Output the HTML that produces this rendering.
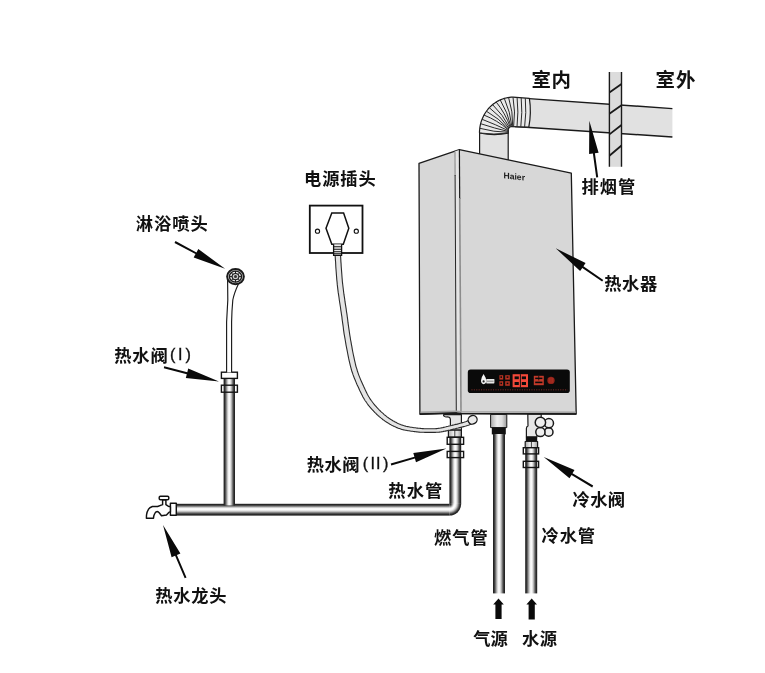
<!DOCTYPE html>
<html lang="zh">
<head>
<meta charset="utf-8">
<title>热水器安装示意图</title>
<style>
html,body{margin:0;padding:0;background:#fff;}
body{width:765px;height:673px;overflow:hidden;position:relative;font-family:"Liberation Sans","Noto Sans CJK SC",sans-serif;}
svg{position:absolute;left:0;top:0;display:block;will-change:transform;}
.lb{position:absolute;white-space:nowrap;font-weight:700;font-size:17.25px;line-height:20px;color:#111;}
.pr{position:absolute;white-space:nowrap;font-family:"Liberation Sans",sans-serif;font-weight:400;font-size:16.2px;line-height:20px;letter-spacing:0;color:#111;-webkit-text-stroke:0.35px #111;}
#labels{position:absolute;left:0;top:0;width:765px;height:673px;will-change:transform;}
</style>
</head>
<body>
<svg width="765" height="673" viewBox="0 0 765 673">
<defs>
  <linearGradient id="pv" x1="0" y1="0" x2="1" y2="0">
    <stop offset="0" stop-color="#1c1c1c"/>
    <stop offset="0.1" stop-color="#2e2e2e"/>
    <stop offset="0.2" stop-color="#6a6a6a"/>
    <stop offset="0.32" stop-color="#bdbdbd"/>
    <stop offset="0.42" stop-color="#efefef"/>
    <stop offset="0.5" stop-color="#fdfdfd"/>
    <stop offset="0.58" stop-color="#efefef"/>
    <stop offset="0.68" stop-color="#bdbdbd"/>
    <stop offset="0.8" stop-color="#6a6a6a"/>
    <stop offset="0.9" stop-color="#2e2e2e"/>
    <stop offset="1" stop-color="#1c1c1c"/>
  </linearGradient>
  <linearGradient id="ph" x1="0" y1="0" x2="0" y2="1">
    <stop offset="0" stop-color="#1c1c1c"/>
    <stop offset="0.1" stop-color="#2e2e2e"/>
    <stop offset="0.19" stop-color="#6a6a6a"/>
    <stop offset="0.3" stop-color="#c4c4c4"/>
    <stop offset="0.38" stop-color="#f4f4f4"/>
    <stop offset="0.46" stop-color="#ffffff"/>
    <stop offset="0.55" stop-color="#f0f0f0"/>
    <stop offset="0.66" stop-color="#bdbdbd"/>
    <stop offset="0.78" stop-color="#6a6a6a"/>
    <stop offset="0.88" stop-color="#2e2e2e"/>
    <stop offset="1" stop-color="#1a1a1a"/>
  </linearGradient>
  <radialGradient id="pe" gradientUnits="userSpaceOnUse" cx="449.4" cy="503.8" r="12">
    <stop offset="0" stop-color="#1c1c1c"/>
    <stop offset="0.1" stop-color="#2e2e2e"/>
    <stop offset="0.19" stop-color="#6a6a6a"/>
    <stop offset="0.3" stop-color="#c4c4c4"/>
    <stop offset="0.38" stop-color="#f4f4f4"/>
    <stop offset="0.46" stop-color="#ffffff"/>
    <stop offset="0.55" stop-color="#f0f0f0"/>
    <stop offset="0.66" stop-color="#bdbdbd"/>
    <stop offset="0.78" stop-color="#6a6a6a"/>
    <stop offset="0.88" stop-color="#2e2e2e"/>
    <stop offset="1" stop-color="#1a1a1a"/>
  </radialGradient>
  <linearGradient id="fit" x1="0" y1="0" x2="1" y2="0">
    <stop offset="0" stop-color="#aaa"/>
    <stop offset="0.4" stop-color="#eee"/>
    <stop offset="0.7" stop-color="#ddd"/>
    <stop offset="1" stop-color="#999"/>
  </linearGradient>
</defs>

<!-- exhaust pipe -->
<g id="exhaust" stroke="#1a1a1a" stroke-width="1.3" stroke-linejoin="round">
  <path d="M529 98.6 L672.4 108.6 L672.4 137 L515 126.5 Z" fill="#e1e1e1" stroke="none"/>
  <path d="M529 98.6 L672.4 108.6 M515 126.5 L672.4 137" fill="none" stroke-width="1.4"/>
  <rect x="479.6" y="130" width="28.6" height="32" fill="#e1e1e1" stroke="none"/>
  <path d="M479.6 162 L479.6 130 M508.2 162 L508.2 130" fill="none" stroke-width="1.2"/>
  <path d="M479.5 133.0 L479.5 131.1 L479.7 129.3 L479.9 127.4 L480.2 125.6 L480.6 123.7 L481.1 121.9 L481.7 120.2 L482.4 118.4 L483.2 116.7 L484.0 115.1 L484.9 113.5 L485.9 112.0 L487.0 110.5 L488.1 109.0 L489.3 107.7 L490.6 106.4 L491.9 105.2 L493.3 104.0 L494.8 103.0 L496.2 102.0 L497.8 101.1 L499.4 100.3 L501.0 99.6 L502.6 99.0 L504.3 98.4 L506.0 98.0 L507.8 97.6 L509.5 97.4 L511.2 97.2 L513.0 97.2 L529.4 98.4 Q531.6 112.5 528.8 127.2 L511.7 126.6 L511.2 126.6 L510.6 126.8 L510.1 127.0 L509.6 127.3 L509.2 127.6 L508.9 128.0 L508.6 128.5 L508.4 129.0 L508.2 129.6 L508.2 130.1 L508.2 133.2 Q494 136 479.5 133 Z" fill="#e9e9e9" stroke-width="1.2"/>
  <path d="M479.5 133.0 Q493.8 134.9 508.2 133.2 M479.8 128.3 Q493.7 132.1 508.2 132.3 M480.6 123.7 Q494.3 128.2 508.2 131.5 M482.1 119.3 Q495.4 124.4 508.2 130.6 M484.0 115.1 Q497.3 120.3 508.2 129.7 M486.4 111.2 Q498.9 118.2 508.4 128.9 M489.3 107.7 Q500.8 116.2 508.8 128.1 M492.6 104.6 Q503.0 114.6 509.4 127.4 M496.2 102.0 Q505.3 113.3 510.2 127.0 M500.2 99.9 Q507.8 112.4 511.0 126.7 M504.3 98.4 Q510.4 111.9 511.9 126.6 M508.6 97.5 Q513.1 111.7 512.7 126.6 M513.0 97.2 Q515.7 111.9 513.6 126.7 M517.1 97.5 Q518.7 112.1 517.0 126.8 M521.2 97.8 Q522.6 112.4 520.8 126.9 M525.3 98.1 Q526.6 112.6 524.6 127.1" fill="none" stroke-width="1" stroke="#2a2a2a"/>
</g>

<!-- wall -->
<g id="wall">
  <rect x="609.4" y="72" width="12.1" height="94.8" fill="#dcdcdc"/>
  <path d="M609.4 72 V166.8 M621.5 72 V166.8" stroke="#1a1a1a" stroke-width="1.4" fill="none"/>
  <path d="M609.4 92.5 L621.5 83.9 M609.4 113.8 L621.5 105.3 M609.4 134.4 L621.5 125 M609.4 155.7 L621.5 145.5" stroke="#1a1a1a" stroke-width="1.8" fill="none"/>
</g>

<!-- fittings under heater -->
<g id="fittings" stroke="#1a1a1a" stroke-width="1.2" stroke-linejoin="round">
  <!-- hot valve body -->
  <path d="M443.6 414.6 Q443.2 416.6 446 417 Q450.2 416.4 450.4 419.6 L450.4 430.2 L461.4 430.2 L461.4 414.6 Z" fill="#e6e6e6"/>
  <rect x="448.4" y="430.2" width="13" height="6.8" fill="url(#fit)"/>
  <path d="M454.8 430.2 V437" fill="none" stroke-width="0.8"/>
  <!-- gas fitting -->
  <rect x="490.6" y="414.4" width="16.2" height="13.2" fill="url(#fit)" stroke-width="1"/>
  <rect x="491.8" y="427.4" width="14" height="7" fill="#111" stroke="none"/>
  <!-- cold valve body -->
  <path d="M527.8 414 L528 426 Q526.4 426.6 526.4 428.4 L526.4 436.8 L537 436.8 L537 430 L541.2 426 L541.2 414 Z" fill="#e6e6e6"/>
  <g stroke-width="1.5" fill="#efefef">
  <circle cx="548.7" cy="432" r="4.3"/>
  <circle cx="540.4" cy="432" r="4.6"/>
  <circle cx="548.9" cy="423.2" r="4.6"/>
  <circle cx="540.4" cy="422.4" r="5.2"/>
  </g>
  <rect x="525.8" y="436.8" width="11.4" height="4.8" fill="#111" stroke="none"/>
  <rect x="525.2" y="441.5" width="12.4" height="6" fill="url(#fit)"/>
  <path d="M531.4 441.5 V447.5" fill="none" stroke-width="0.8"/>
</g>

<!-- power cable -->
<g id="cable" stroke="#1a1a1a" stroke-linejoin="round">
  <path d="M334.9 250.1 L334.9 250.3 L334.9 250.5 L334.9 250.6 L334.9 250.8 L334.9 251.1 L334.9 251.5 L334.9 251.9 L335.0 252.5 L335.0 253.2 L335.0 254.1 L335.1 255.2 L335.2 256.5 L335.3 258.1 L335.4 259.9 L335.6 262.0 L335.7 264.2 L335.8 266.6 L336.0 269.2 L336.2 271.8 L336.4 274.5 L336.6 277.1 L336.8 279.8 L337.1 282.4 L337.3 284.9 L337.6 287.4 L337.9 289.9 L338.2 292.4 L338.6 294.9 L339.0 297.5 L339.3 300.0 L339.7 302.5 L340.1 305.0 L340.5 307.5 L340.8 310.0 L341.2 312.4 L341.5 314.7 L341.9 316.9 L342.1 319.1 L342.4 321.3 L342.7 323.4 L343.0 325.4 L343.3 327.5 L343.5 329.6 L343.8 331.7 L344.1 333.8 L344.5 336.0 L344.9 338.2 L345.3 340.5 L345.7 342.8 L346.1 345.3 L346.6 347.8 L347.1 350.4 L347.6 353.0 L348.1 355.6 L348.6 358.2 L349.2 360.8 L349.8 363.3 L350.4 365.8 L351.0 368.2 L351.6 370.5 L352.4 372.7 L353.1 374.9 L353.9 377.0 L354.7 379.1 L355.6 381.1 L356.4 383.1 L357.2 385.0 L358.1 386.8 L358.9 388.5 L359.6 390.2 L360.4 391.7 L361.0 393.1 L361.7 394.4 L362.3 395.6 L362.8 396.7 L363.4 397.7 L363.9 398.6 L364.4 399.5 L364.9 400.3 L365.4 401.0 L366.0 401.7 L366.5 402.5 L367.0 403.2 L367.5 404.0 L368.1 404.8 L368.7 405.6 L369.4 406.3 L370.0 407.1 L370.6 407.8 L371.3 408.6 L371.9 409.3 L372.5 410.0 L373.2 410.6 L373.8 411.3 L374.4 412.0 L375.0 412.6 L375.7 413.2 L376.3 413.9 L376.9 414.5 L377.6 415.1 L378.2 415.7 L378.9 416.2 L379.5 416.8 L380.2 417.4 L380.8 417.9 L381.5 418.4 L382.1 418.9 L382.7 419.5 L383.4 419.9 L384.1 420.4 L384.7 420.9 L385.4 421.3 L386.0 421.8 L386.7 422.2 L387.3 422.6 L388.0 423.0 L388.6 423.4 L389.3 423.8 L389.9 424.2 L390.6 424.5 L391.2 424.9 L391.9 425.3 L392.5 425.6 L393.2 425.9 L393.8 426.2 L394.4 426.5 L395.1 426.8 L395.7 427.1 L396.4 427.4 L397.0 427.7 L397.7 427.9 L398.3 428.2 L398.9 428.4 L399.5 428.6 L400.1 428.8 L400.7 429.0 L401.3 429.2 L401.9 429.4 L402.5 429.6 L403.1 429.7 L403.8 429.9 L404.5 430.0 L405.3 430.2 L406.1 430.3 L407.0 430.5 L408.0 430.7 L409.0 430.8 L410.1 431.0 L411.2 431.2 L412.4 431.3 L413.5 431.5 L414.7 431.6 L415.8 431.8 L416.9 431.9 L418.0 432.0 L419.0 432.1 L420.0 432.2 L421.0 432.2 L422.0 432.3 L422.9 432.3 L423.8 432.3 L424.8 432.4 L425.7 432.4 L426.6 432.4 L427.4 432.4 L428.3 432.4 L429.2 432.4 L430.0 432.4 L430.8 432.4 L431.6 432.4 L432.4 432.4 L433.2 432.4 L433.9 432.4 L434.7 432.4 L435.4 432.4 L436.2 432.3 L437.0 432.3 L437.8 432.3 L438.6 432.2 L439.5 432.1 L440.3 432.0 L441.1 431.9 L441.9 431.7 L442.8 431.6 L443.6 431.4 L444.4 431.3 L445.3 431.1 L446.2 430.9 L447.1 430.7 L448.0 430.4 L449.0 430.2 L450.1 430.0 L451.2 429.7 L452.5 429.4 L453.9 429.0 L455.3 428.7 L456.8 428.3 L458.2 428.0 L459.7 427.6 L461.1 427.2 L462.5 426.9 L463.7 426.6 L464.9 426.3 L465.9 426.0 L466.8 425.7 L467.6 425.5 L468.3 425.2 L469.0 425.0 L469.6 424.7 L470.1 424.5 L470.5 424.3 L470.9 424.1 L471.3 424.0 L471.5 423.8 L471.7 423.7 L471.9 423.6 L470.1 419.6 L469.8 419.7 L469.5 419.9 L469.2 420.0 L468.9 420.2 L468.5 420.4 L468.2 420.6 L467.8 420.8 L467.3 421.0 L466.8 421.2 L466.2 421.5 L465.5 421.8 L464.7 422.0 L463.8 422.3 L462.7 422.6 L461.4 423.0 L460.1 423.3 L458.7 423.7 L457.3 424.1 L455.8 424.4 L454.3 424.8 L452.9 425.1 L451.6 425.5 L450.3 425.8 L449.1 426.0 L448.1 426.3 L447.1 426.5 L446.1 426.8 L445.2 427.0 L444.4 427.2 L443.6 427.4 L442.8 427.6 L442.0 427.7 L441.2 427.9 L440.5 428.0 L439.7 428.2 L438.9 428.3 L438.2 428.4 L437.4 428.5 L436.7 428.6 L436.0 428.6 L435.3 428.7 L434.6 428.7 L433.8 428.8 L433.1 428.8 L432.4 428.8 L431.6 428.8 L430.8 428.8 L430.0 428.8 L429.2 428.8 L428.3 428.8 L427.5 428.8 L426.6 428.8 L425.8 428.7 L424.9 428.7 L424.0 428.7 L423.1 428.6 L422.2 428.6 L421.3 428.5 L420.3 428.4 L419.4 428.3 L418.4 428.2 L417.3 428.1 L416.3 428.0 L415.2 427.8 L414.0 427.7 L412.9 427.5 L411.8 427.3 L410.7 427.2 L409.7 427.0 L408.7 426.8 L407.7 426.6 L406.9 426.5 L406.1 426.3 L405.4 426.1 L404.8 426.0 L404.2 425.8 L403.6 425.6 L403.1 425.4 L402.6 425.3 L402.1 425.1 L401.5 424.9 L401.0 424.7 L400.5 424.5 L399.9 424.2 L399.3 424.0 L398.7 423.7 L398.1 423.5 L397.5 423.2 L397.0 422.9 L396.4 422.6 L395.8 422.3 L395.2 422.0 L394.6 421.7 L394.0 421.3 L393.4 421.0 L392.8 420.7 L392.2 420.3 L391.6 419.9 L391.0 419.6 L390.4 419.2 L389.8 418.8 L389.2 418.4 L388.6 418.0 L388.0 417.5 L387.4 417.1 L386.8 416.7 L386.2 416.2 L385.7 415.7 L385.1 415.3 L384.5 414.8 L383.9 414.3 L383.3 413.7 L382.7 413.2 L382.1 412.7 L381.5 412.1 L380.9 411.6 L380.3 411.0 L379.7 410.4 L379.1 409.8 L378.6 409.2 L378.0 408.6 L377.4 407.9 L376.8 407.3 L376.2 406.6 L375.6 406.0 L375.0 405.3 L374.4 404.6 L373.8 403.9 L373.3 403.2 L372.7 402.5 L372.2 401.8 L371.7 401.0 L371.1 400.3 L370.6 399.6 L370.1 398.9 L369.7 398.2 L369.3 397.5 L368.8 396.8 L368.4 396.0 L367.9 395.2 L367.4 394.3 L366.9 393.3 L366.4 392.2 L365.8 390.9 L365.1 389.5 L364.4 387.9 L363.6 386.3 L362.8 384.6 L362.0 382.8 L361.2 381.0 L360.4 379.1 L359.6 377.1 L358.8 375.1 L358.1 373.1 L357.4 371.0 L356.8 368.9 L356.1 366.8 L355.5 364.5 L355.0 362.1 L354.4 359.6 L353.9 357.1 L353.3 354.5 L352.8 352.0 L352.3 349.4 L351.9 346.8 L351.4 344.3 L351.0 341.9 L350.5 339.5 L350.2 337.3 L349.8 335.1 L349.5 333.0 L349.2 330.9 L348.9 328.8 L348.6 326.8 L348.3 324.7 L348.0 322.7 L347.8 320.6 L347.5 318.4 L347.2 316.2 L346.9 313.9 L346.5 311.6 L346.2 309.2 L345.8 306.7 L345.4 304.2 L345.0 301.7 L344.7 299.2 L344.3 296.7 L343.9 294.2 L343.6 291.7 L343.3 289.2 L343.0 286.7 L342.7 284.3 L342.4 281.9 L342.2 279.3 L342.0 276.7 L341.8 274.0 L341.6 271.4 L341.4 268.8 L341.2 266.3 L341.1 263.9 L340.9 261.6 L340.8 259.6 L340.7 257.7 L340.6 256.1 L340.5 254.8 L340.4 253.7 L340.4 252.9 L340.4 252.2 L340.3 251.7 L340.3 251.3 L340.3 251.0 L340.3 250.8 L340.3 250.6 L340.3 250.4 L340.3 250.2 L340.3 249.9 Z" fill="#e4e4e4" stroke="#2a2a2a" stroke-width="1.1"/>
  <ellipse cx="472.6" cy="419.8" rx="4.6" ry="4.2" transform="rotate(-30 472.6 419.8)" fill="#eaeaea" stroke-width="1.3"/>
</g>

<!-- heater body -->
<g id="heater" stroke="#1a1a1a" stroke-width="1.3" stroke-linejoin="round">
  <path d="M419 163.4 L459.4 149.7 L571.3 173.1 L576.2 414 L461 413.5 L456.3 413 L419.9 414.2 Z" fill="#d7d7d7"/>
  <path d="M455 151.3 L459.4 149.9 L461 413.3 L456.3 412.8 Z" fill="#e4e4e4" stroke="none"/>
  <path d="M455 151.3 L455.1 176" fill="none" stroke="#8a8a8a" stroke-width="1.1"/>
  <path d="M455.1 175 L456.3 412.8" fill="none" stroke="#1a1a1a" stroke-width="0.95"/>
  <path d="M459.4 149.9 L459.7 199" fill="none" stroke="#1a1a1a" stroke-width="1.2"/>
  <path d="M459.7 198 L461 413.2" fill="none" stroke="#8c8c8c" stroke-width="1.6"/>
  <path d="M420.7 412.4 L456.3 411.2 L461 411.7 L575.6 412.2" fill="none" stroke-width="1.6" stroke="#a2a2a2"/>
  <path d="M419.9 414.2 L456.3 413 L461 413.5 L576.2 414" fill="none" stroke-width="1.7" stroke="#1a1a1a"/>
  <rect x="467.8" y="369.6" width="102" height="23.5" rx="2.8" fill="#0a0a0a" stroke="none"/>
</g>
<text x="0" y="0" font-family="'Liberation Sans',sans-serif" font-size="8.6" font-weight="700" fill="#1a1a1a" transform="translate(503.5 178.2) skewY(6.5)">Haier</text>

<!-- display content -->
<g id="display">
  <path d="M483.6 374 q-2.6 3.6 -2.6 6.6 q0 3.4 2.6 3.6 q2.6 -0.2 2.6 -3.4 q0 -3 -2.6 -6.8 z" fill="#f4f4f4"/>
  <circle cx="483.6" cy="381.4" r="1.1" fill="#222"/>
  <rect x="486.2" y="379" width="8.2" height="4.4" rx="0.6" fill="#e6e6e6"/>
  <path d="M487 381.2 H493.6" stroke="#555" stroke-width="0.7" fill="none"/>
  <g fill="#b83222">
    <rect x="499.4" y="375.2" width="3.8" height="4.4"/><rect x="505.2" y="375.2" width="4.6" height="4.4"/>
    <rect x="499.4" y="381.2" width="3.8" height="4.6"/><rect x="505.2" y="381.2" width="4.6" height="4.6"/>
  </g>
  <g fill="#0a0a0a">
    <rect x="500.4" y="376.3" width="1.6" height="1.6"/><rect x="506.6" y="376.3" width="1.8" height="1.6"/>
    <rect x="500.4" y="382.6" width="1.6" height="1.6"/><rect x="506.6" y="382.6" width="1.8" height="1.6"/>
  </g>
  <rect x="512.6" y="374.2" width="15.4" height="13" fill="#f4493a"/>
  <g fill="#0a0a0a">
    <rect x="514.6" y="376.4" width="4.2" height="2.8"/><rect x="521.8" y="376.4" width="4.2" height="2.8"/>
    <rect x="514.6" y="382" width="4.2" height="3"/><rect x="521.8" y="382" width="4.2" height="3"/>
    <rect x="519.9" y="374.2" width="0.9" height="13"/>
  </g>
  <rect x="533.8" y="375.8" width="10" height="9.4" fill="#c43a2a"/>
  <g fill="#0a0a0a">
    <rect x="535.2" y="377.6" width="7.2" height="1.5"/><rect x="535.2" y="381.6" width="7.2" height="1.6"/>
    <rect x="538.4" y="375.8" width="0.8" height="4.6"/>
  </g>
  <circle cx="551" cy="380.4" r="3.7" fill="#8e2219"/>
  <path d="M549.2 378 V382.8 M551 377.6 V383.2 M552.8 378 V382.8" stroke="#c2382a" stroke-width="0.7" fill="none"/>
  <path d="M471.4 389.8 H567.6" stroke="#55201c" stroke-width="1.5" stroke-dasharray="1.1 1.3" fill="none"/>
</g>

<g id="ringbg" fill="#fff" stroke="none">
  <rect x="221.4" y="385.2" width="16" height="7" />
  <rect x="447.2" y="437.3" width="16.4" height="7"/>
  <rect x="447.2" y="451.4" width="16.4" height="6.2"/>
  <rect x="523.3" y="447.7" width="15.3" height="6.2"/>
  <rect x="523.3" y="461.3" width="15.3" height="6.2"/>
</g>
<!-- pipes -->
<g id="pipes">
  <rect x="176.5" y="503.8" width="273" height="11.8" fill="url(#ph)"/>
  <rect x="449.4" y="437" width="11.8" height="66.9" fill="url(#pv)"/>
  <path d="M449.4 503.8 H461.2 A11.8 11.8 0 0 1 449.4 515.6 Z" fill="url(#pe)"/>
  <rect x="223.6" y="378" width="11.4" height="127.4" fill="url(#pv)"/>
  <rect x="493" y="434" width="12" height="159.4" fill="url(#pv)"/>
  <rect x="525.2" y="447.5" width="12" height="145.9" fill="url(#pv)"/>
</g>

<!-- valve rings -->
<g id="rings" fill="none" stroke="#141414" stroke-width="1.4">
  <rect x="221.4" y="372.2" width="16" height="6.2" fill="#fff"/>
  <rect x="221.4" y="385.2" width="16" height="7" />
  <rect x="447.2" y="437.3" width="16.4" height="7"/>
  <rect x="447.2" y="451.4" width="16.4" height="6.2"/>
  <rect x="523.3" y="447.7" width="15.3" height="6.2"/>
  <rect x="523.3" y="461.3" width="15.3" height="6.2"/>
</g>

<!-- shower -->
<g id="shower" stroke="#1a1a1a" stroke-width="1.4" fill="#fff">
  <path d="M226.6 372.4 L226.6 322 Q227.2 311 227.8 300 L227.6 280 L238.4 284 Q234.2 293 232.8 300 Q231.8 311 231.6 322 L231.6 372.4 Z" stroke="none"/>
  <path d="M226.6 372.4 L226.6 322 Q227.2 311 227.8 300 L227.6 280 M238.4 284 Q234.2 293 232.8 300 Q231.8 311 231.6 322 L231.6 372.4" fill="none" stroke-width="1.15"/>
  <ellipse cx="235.5" cy="276.6" rx="8.4" ry="7.6" fill="#c8c8c8" stroke-width="1.9"/>
  <ellipse cx="235.5" cy="276.6" rx="6.1" ry="5.5" fill="#ededed" stroke-width="1.3"/>
  <path d="M235.5 271 V282.2 M229.4 276.6 H241.6 M231.2 272.8 L239.8 280.4 M239.8 272.8 L231.2 280.4" stroke-width="1" fill="none"/>
  <ellipse cx="235.5" cy="276.6" rx="3.4" ry="3.1" fill="#ccc" stroke-width="1.1"/>
  <circle cx="235.5" cy="276.6" r="1.5" fill="#333" stroke="none"/>
</g>

<!-- faucet -->
<g id="faucet" stroke="#111" stroke-width="1.45" fill="#fff" stroke-linejoin="round">
  <rect x="170.4" y="503.3" width="5.9" height="12"/>
  <path d="M146.4 518.3 L153.5 518.3 Q153.6 515.5 154.6 513.8 Q155.6 511.8 157.2 511.5 Q158.4 511.6 159.2 512.8 L161.5 515.8 L166.5 515 L168.8 512.4 L170.4 511.8 L170.4 506.8 L168.2 506.2 L165.9 504.7 L165.9 499.7 L162.6 499.7 L162.6 504.7 Q161 505.4 160.6 505.3 L157.6 506.5 L152.4 506.5 Q149.6 507.6 148.6 509.2 Q146.8 512 146.5 515 Z"/>
  <rect x="159.2" y="496.3" width="9.6" height="3.4" rx="1.2"/>
</g>

<!-- socket -->
<g id="socket" stroke="#111" fill="#fff">
  <rect x="309.8" y="205.6" width="52.7" height="47.4" stroke-width="1.8"/>
  <path d="M331.8 213 L343.6 213 L348.8 228.2 L343.3 244.3 L331.8 244.3 L326 228.2 Z" stroke-width="1.5"/>
  <circle cx="317.5" cy="231.2" r="2.1" stroke-width="1.1"/>
  <circle cx="356.3" cy="231.2" r="2.1" stroke-width="1.1"/>
  <path d="M333.6 244.3 L333.6 255.4 L341.6 255.4 L341.6 244.3" stroke-width="1.3" fill="#eee"/>
  <path d="M333.6 246.8 H341.6 M333.6 249.3 H341.6 M333.6 251.7 H341.6 M333.6 253.7 H341.6" stroke-width="1.1" fill="none"/>
</g>

<g id="arrows" fill="#0a0a0a">
<polygon points="589.3,120.8 589.1,154.1 592.9,153.6 596.2,177.4 598.2,177.2 594.9,153.3 598.6,152.8"/>
<polygon points="555.7,248.3 580.1,271.0 582.3,267.9 602.1,281.5 603.3,279.9 583.4,266.2 585.6,263.1"/>
<polygon points="225.1,268.8 198.3,249.0 196.5,252.4 175.5,241.1 174.5,242.9 195.5,254.1 193.7,257.5"/>
<polygon points="219.0,381.4 188.2,368.6 187.3,372.2 164.2,366.3 163.8,368.3 186.8,374.2 185.8,377.9"/>
<polygon points="446.4,448.6 413.3,453.0 414.4,456.7 390.7,463.4 391.3,465.4 414.9,458.6 416.0,462.3"/>
<polygon points="543.7,457.1 569.5,478.2 571.5,474.9 592.2,487.4 593.2,485.6 572.5,473.2 574.5,470.0"/>
<polygon points="163.0,525.0 171.6,557.2 175.1,555.7 184.7,578.2 186.5,577.4 176.9,554.9 180.4,553.4"/>
<polygon points="498.5,598.6 503.8,604.4 501.6,604.4 501.6,619.0 495.4,619.0 495.4,604.4 493.2,604.4"/>
<polygon points="531.7,598.6 537.0,604.4 534.8,604.4 534.8,619.5 528.6,619.5 528.6,604.4 526.4,604.4"/>
</g>
</svg>

<div id="labels">
<div class="lb" style="left:531.50px;top:70.00px;letter-spacing:0.50px;font-size:19.45px;">室内</div>
<div class="lb" style="left:655.55px;top:70.00px;letter-spacing:1.00px;font-size:19.45px;">室外</div>
<div class="lb" style="left:581.40px;top:177.00px;letter-spacing:1.00px;">排烟管</div>
<div class="lb" style="left:604.20px;top:274.00px;letter-spacing:0.62px;">热水器</div>
<div class="lb" style="left:304.00px;top:169.00px;letter-spacing:0.92px;">电源插头</div>
<div class="lb" style="left:135.73px;top:214.00px;letter-spacing:1.00px;">淋浴喷头</div>
<div class="lb" style="left:114.22px;top:346.00px;letter-spacing:0.87px;">热水阀<span class="pr" style="left:55.71px;top:-2.00px;">(</span><span class="pr" style="left:63.78px;top:-2.00px;">I</span><span class="pr" style="left:71.25px;top:-2.00px;">)</span></div>
<div class="lb" style="left:306.65px;top:455.00px;letter-spacing:0.50px;">热水阀<span class="pr" style="left:56.08px;top:-2.00px;">(</span><span class="pr" style="left:63.95px;top:-2.00px;">I</span><span class="pr" style="left:69.25px;top:-2.00px;">I</span><span class="pr" style="left:76.42px;top:-2.00px;">)</span></div>
<div class="lb" style="left:388.30px;top:481.00px;letter-spacing:1.12px;">热水管</div>
<div class="lb" style="left:434.05px;top:528.00px;letter-spacing:1.00px;">燃气管</div>
<div class="lb" style="left:572.60px;top:490.00px;letter-spacing:0.38px;">冷水阀</div>
<div class="lb" style="left:541.62px;top:526.00px;letter-spacing:0.87px;">冷水管</div>
<div class="lb" style="left:155.18px;top:586.00px;letter-spacing:0.75px;">热水龙头</div>
<div class="lb" style="left:473.35px;top:629.00px;letter-spacing:0.00px;">气源</div>
<div class="lb" style="left:521.92px;top:629.00px;letter-spacing:0.50px;">水源</div>
</div>
</body>
</html>
